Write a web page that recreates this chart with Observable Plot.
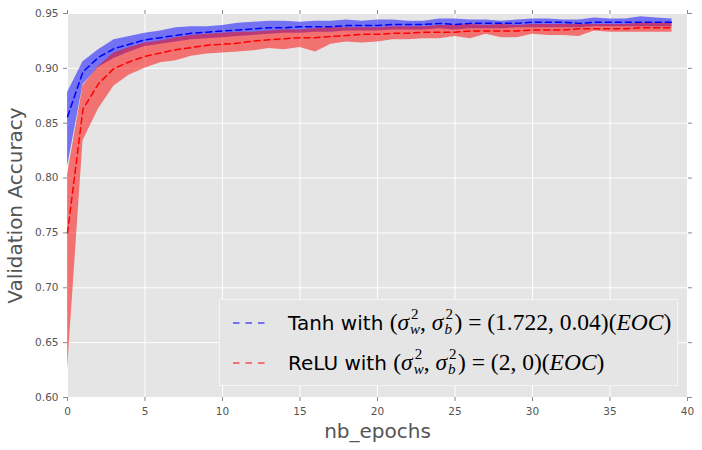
<!DOCTYPE html>
<html>
<head>
<meta charset="utf-8">
<script src="https://cdn.jsdelivr.net/npm/d3@7"></script>
<script src="https://cdn.jsdelivr.net/npm/@observablehq/plot@0.6"></script>
<style>
  body { margin: 0; background: white; }
  #chart { position: relative; width: 702px; height: 450px; }
  #legend { position: absolute; left: 219px; top: 299px; width: 457px; height: 85px;
            background: #E5E5E5; border: 1px solid #f4f4f4; }
  .row { position: absolute; left: 0; height: 30px; white-space: nowrap; }
  .swatch { position: absolute; left: 13px; width: 32px; height: 4px; }
  .lbl { position: absolute; left: 68px; top: 2px; font-family: "DejaVu Sans"; font-size: 20px; line-height: 26px; color: #000; }
  .m { font-family: "Liberation Serif", serif; font-size: 23.5px; }
  .it { font-style: italic; }
  .sc { display: inline-block; position: relative; width: 10px; height: 23px; margin-left: 1px; }
  .sc span { position: absolute; left: 0; font-size: 15px; line-height: 15px; }
  .sc .sup { top: 0px; left: 1px; font-style: normal; }
  .sc .sub { top: 15px; font-style: italic; }
</style>
</head>
<body>
<div id="chart"></div>
<script>
const epochs = [0,1,2,3,4,5,6,7,8,9,10,11,12,13,14,15,16,17,18,19,20,21,22,23,24,25,26,27,28,29,30,31,32,33,34,35,36,37,38,39];
const tanhMean = [0.856,0.897,0.910,0.918,0.922,0.926,0.928,0.930,0.932,0.933,0.934,0.935,0.936,0.937,0.937,0.938,0.938,0.938,0.939,0.939,0.939,0.940,0.940,0.940,0.941,0.940,0.941,0.941,0.941,0.941,0.942,0.942,0.942,0.941,0.942,0.942,0.942,0.942,0.942,0.942];
const tanhHi = [0.878,0.906,0.917,0.926,0.929,0.932,0.934,0.937,0.938,0.938,0.939,0.941,0.942,0.943,0.943,0.942,0.943,0.943,0.944,0.943,0.944,0.944,0.943,0.943,0.945,0.945,0.944,0.944,0.943,0.944,0.945,0.945,0.944,0.944,0.946,0.945,0.945,0.947,0.946,0.945];
const tanhLo = [0.810,0.885,0.901,0.909,0.915,0.920,0.922,0.924,0.926,0.927,0.928,0.929,0.930,0.931,0.932,0.932,0.933,0.933,0.934,0.934,0.934,0.935,0.935,0.935,0.936,0.935,0.936,0.936,0.936,0.937,0.937,0.937,0.937,0.937,0.938,0.938,0.938,0.938,0.938,0.938];
const reluMean = [0.750,0.863,0.886,0.900,0.906,0.911,0.914,0.917,0.919,0.921,0.922,0.923,0.925,0.926,0.927,0.928,0.928,0.929,0.930,0.931,0.931,0.932,0.932,0.933,0.933,0.933,0.934,0.934,0.934,0.934,0.935,0.935,0.935,0.936,0.936,0.936,0.936,0.937,0.937,0.937];
const reluHi = [0.803,0.884,0.902,0.914,0.919,0.923,0.925,0.928,0.930,0.931,0.932,0.933,0.933,0.934,0.935,0.935,0.936,0.937,0.937,0.937,0.937,0.938,0.938,0.938,0.939,0.939,0.940,0.939,0.940,0.939,0.940,0.940,0.940,0.940,0.940,0.940,0.940,0.941,0.941,0.941];
const reluLo = [0.625,0.834,0.863,0.884,0.894,0.900,0.905,0.907,0.911,0.913,0.914,0.915,0.916,0.918,0.917,0.919,0.915,0.922,0.924,0.923,0.924,0.926,0.926,0.927,0.927,0.929,0.927,0.931,0.928,0.928,0.931,0.930,0.930,0.929,0.934,0.933,0.933,0.933,0.933,0.933];
const xTicks = [0,5,10,15,20,25,30,35,40];
const yTicks = [0.60,0.65,0.70,0.75,0.80,0.85,0.90,0.95];
const xLabel = "nb_epochs";
const yLabel = "Validation Accuracy";

const tanh = epochs.map((e, i) => ({e, m: tanhMean[i], lo: tanhLo[i], hi: tanhHi[i]}));
const relu = epochs.map((e, i) => ({e, m: reluMean[i], lo: reluLo[i], hi: reluHi[i]}));

const chart = Plot.plot({
  width: 702,
  height: 450,
  marginLeft: 67,
  marginRight: 15,
  marginTop: 13,
  marginBottom: 53,
  x: {domain: [0, 40]},
  y: {domain: [0.60, 0.95]},
  style: {fontFamily: "DejaVu Sans", fontSize: "10.5px", color: "#555", background: "white", overflow: "visible"},
  marks: [
    Plot.frame({fill: "#E5E5E5", stroke: null}),
    Plot.gridX({ticks: xTicks, stroke: "white", strokeOpacity: 1, strokeWidth: 1}),
    Plot.gridY({ticks: yTicks, stroke: "white", strokeOpacity: 1, strokeWidth: 1}),
    Plot.areaY(tanh, {x: "e", y1: "lo", y2: "hi", fill: "blue", fillOpacity: 0.5}),
    Plot.areaY(relu, {x: "e", y1: "lo", y2: "hi", fill: "red", fillOpacity: 0.5}),
    Plot.line(tanh, {x: "e", y: "m", stroke: "blue", strokeWidth: 1.5, strokeDasharray: "6,4"}),
    Plot.line(relu, {x: "e", y: "m", stroke: "red", strokeWidth: 1.5, strokeDasharray: "6,4"}),
    Plot.axisY({ticks: yTicks, tickFormat: d3.format(".2f"), tickSize: 4, tickPadding: 5, label: null, stroke: "#888", fill: "#555"}),
    Plot.axisY({anchor: "right", ticks: yTicks, tickSize: 4, tickFormat: () => "", label: null, stroke: "#888"}),
    Plot.axisX({ticks: xTicks, tickSize: 4, tickPadding: 6, label: null, stroke: "#888", fill: "#555"}),
    Plot.axisX({anchor: "top", ticks: xTicks, tickSize: 4, tickFormat: () => "", label: null, stroke: "#888"}),
    Plot.text([xLabel], {frameAnchor: "bottom", textAnchor: "middle", lineAnchor: "middle", dy: 34, fontSize: 20, fill: "#555"}),
    Plot.text([yLabel], {frameAnchor: "left", rotate: -90, textAnchor: "middle", lineAnchor: "middle", dx: -52, fontSize: 20, fill: "#555"})
  ]
});
const root = document.getElementById("chart");
root.appendChild(chart);

const legendItems = [
  {color: "blue", name: "Tanh with ", vals: "(1.722, 0.04)", top: 5},
  {color: "red", name: "ReLU with ", vals: "(2, 0)", top: 45}
];
const sig = s => `<span class="it">σ</span><span class="sc"><span class="sup">2</span><span class="sub">${s}</span></span>`;
const legend = document.createElement("div");
legend.id = "legend";
legend.innerHTML = legendItems.map(d => `
  <div class="row" style="top:${d.top}px;width:457px">
    <svg class="swatch" viewBox="0 0 32 4" style="top:16px"><line x1="0" y1="2" x2="32" y2="2" stroke="${d.color}" stroke-width="1" stroke-dasharray="6.5,6"/></svg>
    <span class="lbl">${d.name}<span class="m">(${sig("w")}, ${sig("b")}) = ${d.vals}(<span class="it">EOC</span>)</span></span>
  </div>`).join("");
root.appendChild(legend);
</script>
</body>
</html>
